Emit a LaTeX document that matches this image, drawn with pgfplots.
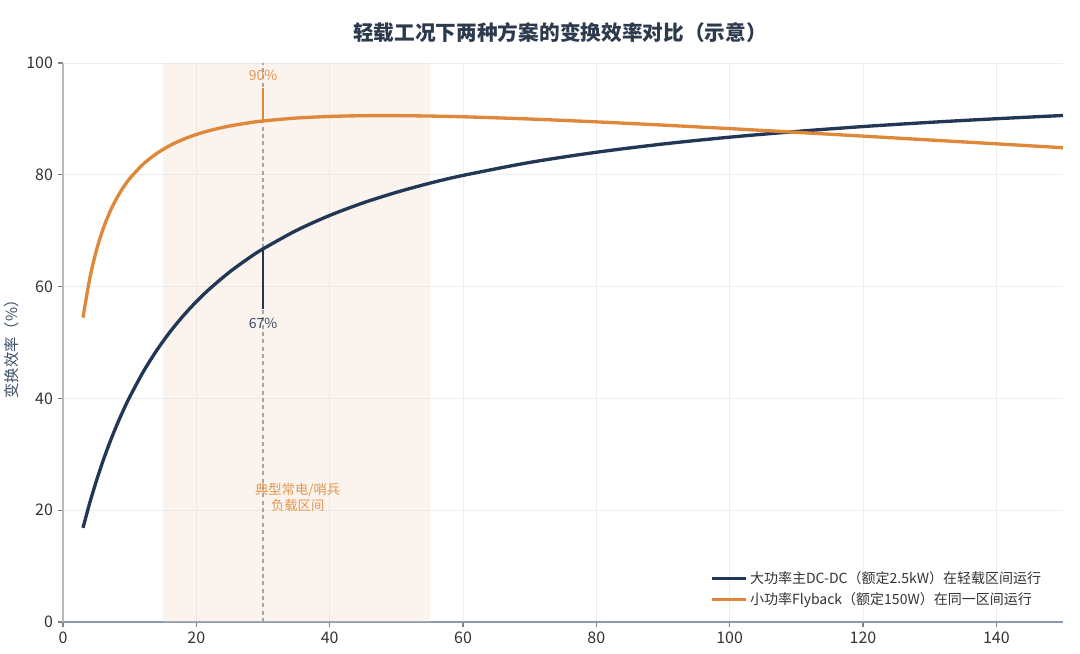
\documentclass[border=0pt]{standalone}
\usepackage{fontspec}
\setmainfont{Noto Sans CJK SC}
\usepackage{pgfplots}
\usepackage{pgfplotstable}
\pgfplotsset{compat=1.18}
\usetikzlibrary{calc}
\definecolor{navy}{RGB}{34,54,86}
\definecolor{orng}{RGB}{223,136,58}
\definecolor{orngtxt}{RGB}{229,150,80}
\definecolor{shadec}{RGB}{242,214,196}
\definecolor{gridc}{RGB}{236,238,241}
\definecolor{txt}{RGB}{51,51,51}
\definecolor{titlec}{RGB}{44,58,78}
\definecolor{slate}{RGB}{60,77,102}
\definecolor{dashc}{RGB}{160,166,176}

\pgfplotstableread{
x y
3 16.84
4 21.25
5 25.22
6 28.80
7 32.06
8 35.03
9 37.74
10 40.24
12 44.68
14 48.49
16 51.81
18 54.73
20 57.31
22 59.60
25 62.62
28 65.21
30 66.74
35 70.04
40 72.73
45 74.97
50 76.86
55 78.49
60 79.89
70 82.21
80 84.03
90 85.51
100 86.73
110 87.75
120 88.63
130 89.38
140 90.03
150 90.61
}\dcdc

\pgfplotstableread{
x y
3 54.45
4 61.37
5 66.43
6 70.27
7 73.28
8 75.69
9 77.67
10 79.31
12 81.88
14 83.77
16 85.21
18 86.33
20 87.21
22 87.92
25 88.73
28 89.32
30 89.63
35 90.15
40 90.44
45 90.57
50 90.58
55 90.51
60 90.38
70 89.98
80 89.47
90 88.89
100 88.26
110 87.60
120 86.92
130 86.23
140 85.54
150 84.84
}\flyback

\begin{document}
\begin{tikzpicture}
\begin{axis}[
  scale only axis, width=750pt, height=419.25pt,
  xmin=0, xmax=150, ymin=0, ymax=100,
  xtick={0,20,...,140}, ytick={0,20,...,100},
  axis lines*=left,
  x axis line style={draw={rgb,255:red,140;green,155;blue,175}, line width=0.9pt},
  y axis line style={draw={rgb,255:red,185;green,185;blue,185}, line width=0.9pt},
  tick style={draw=gray, line width=0.8pt},
  tick align=outside, major tick length=4pt,
  grid=major, grid style={gridc, line width=0.6pt},
  ticklabel style={font=\fontsize{12}{14}\selectfont, text=txt},
  /pgf/number format/assume math mode=true,
  clip=false,
  legend style={at={(0.985,0.018)}, anchor=south east, draw=none, fill=none,
    font=\fontsize{10.5}{12}\selectfont, text=txt, row sep=1pt},
  legend cell align=left,
  legend image code/.code={\draw[#1] (0pt,0pt) -- (25pt,0pt);},
]
\coordinate (sw) at (rel axis cs:0,0);
\coordinate (ne) at (rel axis cs:1,1);
\fill[shadec, fill opacity=0.3] (axis cs:15,0) rectangle (axis cs:55,100);
\draw[dashc, line width=0.8pt, dash pattern=on 3pt off 2.5pt] (axis cs:30,0) -- (axis cs:30,100);

\addplot[navy, line width=2.5pt, smooth] table[x=x,y=y] {\dcdc};
\addlegendentry{大功率主DC-DC（额定2.5kW）在轻载区间运行}
\addplot[orng, line width=2.5pt, smooth] table[x=x,y=y] {\flyback};
\addlegendentry{小功率Flyback（额定150W）在同一区间运行}

\draw[orng, line width=1.1pt] (axis cs:30,89.63) -- (axis cs:30,95.5);
\node[text=orngtxt, font=\fontsize{10.5}{12}\selectfont] at (axis cs:30,97.7) {90\%};
\draw[navy, line width=1.1pt] (axis cs:30,66.74) -- (axis cs:30,56);
\node[text=slate, font=\fontsize{10.5}{12}\selectfont] at (axis cs:30,53.4) {67\%};
\node[text=orngtxt, font=\fontsize{10}{11.5}\selectfont, align=center] at (axis cs:35.2,22.3) {典型常电/哨兵\\负载区间};

\node[font=\fontsize{15.5}{18}\selectfont\bfseries, text=titlec] at ($(rel axis cs:0.497,1)+(0,22.5pt)$) {轻载工况下两种方案的变换效率对比（示意）};
\node[font=\fontsize{11.5}{13}\selectfont, text=slate, rotate=90] at ($(rel axis cs:0,0.495)+(-38.25pt,0)$) {变换效率（\%）};
\end{axis}
\pgfresetboundingbox
\path ($(sw)+(-47.25pt,-23.25pt)$) rectangle ($(ne)+(12.75pt,47.25pt)$);
\end{tikzpicture}
\end{document}
